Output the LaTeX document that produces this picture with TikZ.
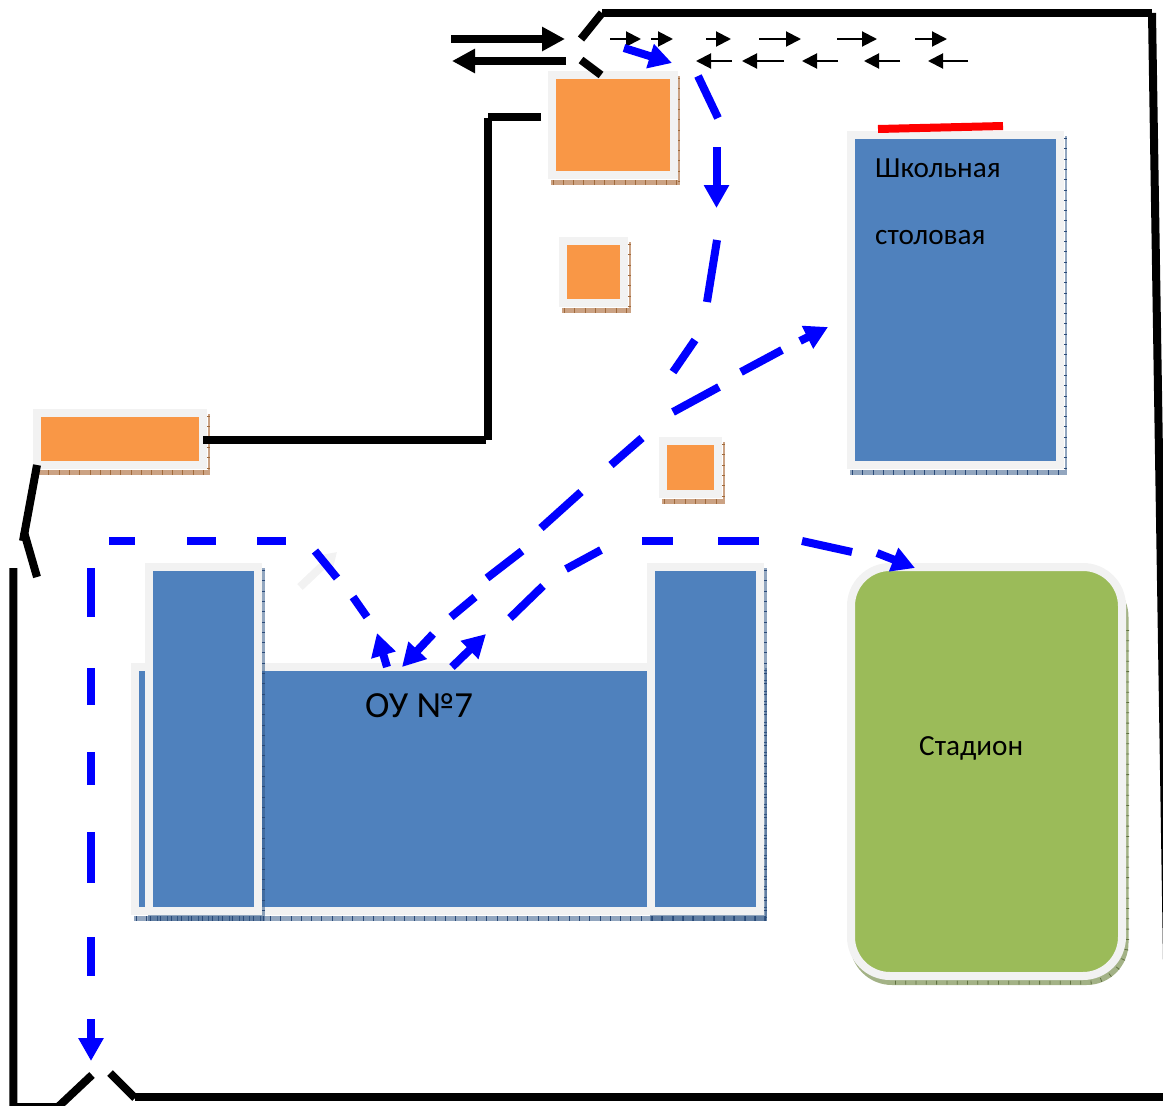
\documentclass[tikz,border=0pt]{standalone}
\usepackage{fontspec}
\setmainfont{Carlito}
\usetikzlibrary{arrows.meta}
\definecolor{pal}{HTML}{F2F2F2}
\definecolor{orangefill}{HTML}{F99746}
\definecolor{bluefill}{HTML}{4F81BD}
\definecolor{greenfill}{HTML}{9BBB59}
\definecolor{orangeshade}{HTML}{CBA283}
\definecolor{orangetick}{HTML}{A06A3C}
\definecolor{blueshade}{HTML}{385D8A}
\definecolor{bluetick}{HTML}{2A4A78}
\definecolor{greenshade}{HTML}{A3B286}
\definecolor{greentick}{HTML}{5F7040}
\definecolor{pureblue}{HTML}{0000FF}
\definecolor{purered}{HTML}{FF0000}
% #1 shade options, #2 tick colour, #3 fill, #4 x1, #5 y1, #6 x2, #7 y2 (inner rectangle)
\newcommand{\wingblock}[7]{%
  \fill[#1] ({#4-5},{#5-3}) rectangle ({#6+10.7},{#7+13.6});
  \draw[#2,line width=5pt,dash pattern=on 0.8pt off 9.5pt] ({#4-3},{#7+11}) -- ({#6+10.7},{#7+11});
  \draw[#2,line width=3.5pt,dash pattern=on 0.8pt off 9.5pt] ({#6+9.2},{#5-1}) -- ({#6+9.2},{#7+13});
  \draw[pal,line width=8pt,fill=#3] ({#4-4},{#5-4}) rectangle ({#6+4},{#7+4});
}
\newcommand{\bldg}[7]{%
  \fill[#1] ({#4-5},{#5-3}) rectangle ({#6+10.7},{#7+13.6});
  \fill[white] ({#4-9},{#5-9}) rectangle ({#6+8.8},{#7+9});
  \draw[#2,line width=5pt,dash pattern=on 0.8pt off 9.5pt] ({#4-3},{#7+11.3}) -- ({#6+10.7},{#7+11.3});
  \draw[#2,line width=2.5pt,dash pattern=on 0.8pt off 9.5pt] ({#6+9.6},{#5-1}) -- ({#6+9.6},{#7+13});
  \draw[pal,line width=8pt,fill=#3] ({#4-4},{#5-4}) rectangle ({#6+4},{#7+4});
}
\tikzset{
  wall/.style={black,line width=8pt},
  seg/.style={pureblue,line width=8pt},
  bluearrow/.style={pureblue,line width=8pt,-{Triangle[length=23pt,width=24pt]}},
  bigarrow/.style={black,line width=8pt,-{Triangle[length=23pt,width=23pt]}},
  smallarrow/.style={black,line width=2pt,-{Triangle[length=15pt,width=15pt]}},
  label/.style={inner sep=0pt,text=black},
  oshade/.style={fill=orangeshade},
  bshade/.style={fill=blueshade,fill opacity=.55}
}
\begin{document}
\begin{tikzpicture}[x=1pt,y=-1pt]
\useasboundingbox (0,0) rectangle (1163,1106);
% buildings
\bldg{oshade}{orangetick}{orangefill}{555.5}{79}{669.5}{171}
\bldg{oshade}{orangetick}{orangefill}{567}{245}{620}{299}
\bldg{oshade}{orangetick}{orangefill}{667}{445}{714}{490}
\bldg{oshade}{orangetick}{orangefill}{41}{417}{199}{461}
\bldg{bshade}{bluetick}{bluefill}{855}{139}{1056}{461}
\bldg{bshade}{bluetick}{bluefill}{139}{671}{756}{907}
\wingblock{bshade}{bluetick}{bluefill}{153}{571}{254}{907}
\wingblock{bshade}{bluetick}{bluefill}{655}{571}{756}{907}
% stadium
\fill[greenshade,rounded corners=42pt] (850,575) rectangle (1128.5,985);
\draw[greentick,line width=4pt,dash pattern=on 0.8pt off 9.5pt,rounded corners=40pt] (895,982.5) -- (1127,982.5) -- (1127,622);
\draw[pal,line width=8pt,fill=greenfill,rounded corners=39pt] (851,567) rectangle (1122,976);
% red entrance
\draw[purered,line width=8pt] (878,129) -- (1003,126);
% walls
\draw[wall] (581,39) -- (602,13);
\draw[wall] (602,13) -- (1152,13);
\draw[wall] (1152,13) -- (1167,960);
\draw[wall] (581,60) -- (601,75);
\draw[wall] (541,117) -- (488,117);
\draw[wall] (488,118) -- (488,440);
\draw[wall] (486,440) -- (203,440);
\draw[wall] (37,465) -- (23,541);
\draw[wall] (24,532) -- (37,577);
\draw[wall] (13.3,568) -- (13.3,1107) -- (58,1107) -- (92,1075);
\draw[wall] (110,1073) -- (135,1098);
\draw[wall] (135,1097) -- (1165,1097);
% traffic
\draw[bigarrow] (451,39) -- (565,39);
\draw[bigarrow] (566,61) -- (452,61);
\draw[smallarrow] (610,39) -- (641,39);
\draw[smallarrow] (651,39) -- (673,39);
\draw[smallarrow] (706,39) -- (731,39);
\draw[smallarrow] (759,39) -- (801,39);
\draw[smallarrow] (837,39) -- (877,39);
\draw[smallarrow] (915,39) -- (947,39);
\draw[smallarrow] (732,61) -- (696,61);
\draw[smallarrow] (784,61) -- (742,61);
\draw[smallarrow] (838,61) -- (802,61);
\draw[smallarrow] (900,61) -- (864,61);
\draw[smallarrow] (968,61) -- (928,61);
% faint arrow
\draw[pal,line width=8pt,-{Triangle[length=18pt,width=22pt]}] (300,587) -- (337,552);
% route: gate to canteen / school
\draw[bluearrow] (624,48) -- (672,63);
\draw[seg] (698,76) -- (718,118);
\draw[bluearrow] (716.5,147) -- (716.5,208);
\draw[seg] (717,240) -- (707,302);
\draw[seg] (695,340) -- (673,372);
\draw[seg] (673,412) -- (719,387);
\draw[seg] (741,372) -- (782,350);
\draw[bluearrow] (800,341) -- (828,327);
\draw[seg] (642,438) -- (611,465);
\draw[seg] (581,492) -- (541,528);
\draw[seg] (522,551) -- (487,578);
\draw[seg] (475,597) -- (451,617);
\draw[bluearrow] (433,634) -- (402,667);
% route: school to west gate side
\draw[seg] (109,541) -- (135,541);
\draw[seg] (187,541) -- (216,541);
\draw[seg] (257,541) -- (286,541);
\draw[seg] (315,551) -- (337,578);
\draw[seg] (353,597) -- (367,617);
\draw[bluearrow] (387,667) -- (377,633);
\draw[seg] (91,568) -- (91,617);
\draw[seg] (91,668) -- (91,705);
\draw[seg] (91,752) -- (91,785);
\draw[seg] (91,832) -- (91,883);
\draw[seg] (91,937) -- (91,976);
\draw[bluearrow] (91,1019) -- (91,1061);
% route: school to stadium
\draw[bluearrow] (452,667) -- (486,634);
\draw[seg] (510,618) -- (543,586);
\draw[seg] (566,569) -- (601,550);
\draw[seg] (642,541) -- (673,541);
\draw[seg] (718,541) -- (759,541);
\draw[seg] (802,541) -- (852,552);
\draw[bluearrow] (877,553) -- (915,568);
% labels
\node[label,anchor=base west,font=\fontsize{29.2}{29.2}\selectfont] (canteen1) at (875,177) {Школьная};
\node[label,anchor=base west,font=\fontsize{29.2}{29.2}\selectfont] (canteen2) at (875,244) {столовая};
\node[label,anchor=base west,font=\fontsize{36.8}{36.8}\selectfont] (school) at (365,717) {ОУ №7};
\node[label,anchor=base west,font=\fontsize{29.2}{29.2}\selectfont] (stadium) at (919,755) {Стадион};
\end{tikzpicture}
\end{document}
